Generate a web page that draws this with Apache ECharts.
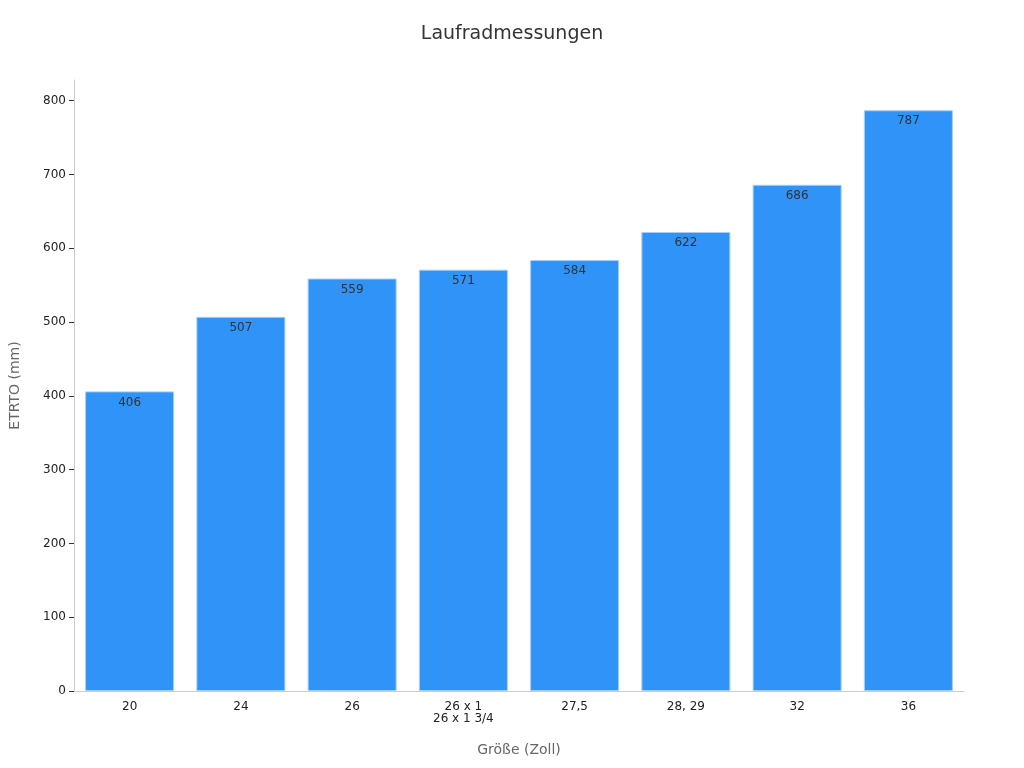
<!DOCTYPE html>
<html><head><meta charset="utf-8">
<script src="https://cdn.jsdelivr.net/npm/echarts@6/dist/echarts.min.js"></script>
<style>html,body{margin:0;padding:0;background:#fff}#c{width:1024px;height:768px}</style>
</head><body><div id="c"></div>
<script>
const categories = ["20","24","26","26 x 1\n26 x 1 3/4","27,5","28, 29","32","36"];
const values = [406,507,559,571,584,622,686,787];
const chart = echarts.init(document.getElementById('c'));
chart.setOption({
  animation:false,
  textStyle:{fontFamily:'DejaVu Sans'},
  title:{text:'Laufradmessungen',left:'center',top:20,textStyle:{fontSize:19,fontWeight:'normal',color:'#333'}},
  grid:{left:68,right:60,top:80,bottom:77},
  xAxis:{type:'category',data:categories,name:'Größe (Zoll)',nameLocation:'middle',nameGap:52,
    nameTextStyle:{color:'#666',fontSize:14},
    axisLine:{lineStyle:{color:'#ccc'}},axisTick:{show:false},
    axisLabel:{color:'#222',fontSize:12,margin:10,interval:0}},
  yAxis:{type:'value',min:0,max:828,interval:100,name:'ETRTO (mm)',nameLocation:'middle',nameGap:52,
    nameTextStyle:{color:'#666',fontSize:14},
    axisLine:{show:true,lineStyle:{color:'#ccc'}},axisTick:{show:true,lineStyle:{color:'#333'}},
    axisLabel:{color:'#222',fontSize:12,showMaxLabel:false},splitLine:{show:false}},
  series:[{type:'bar',data:values,barCategoryGap:'20%',
    itemStyle:{color:'#2f93f8',borderColor:'#a8cdf5',borderWidth:1},
    label:{show:true,position:'insideTop',color:'#333',fontSize:12}}]
});
</script></body></html>
